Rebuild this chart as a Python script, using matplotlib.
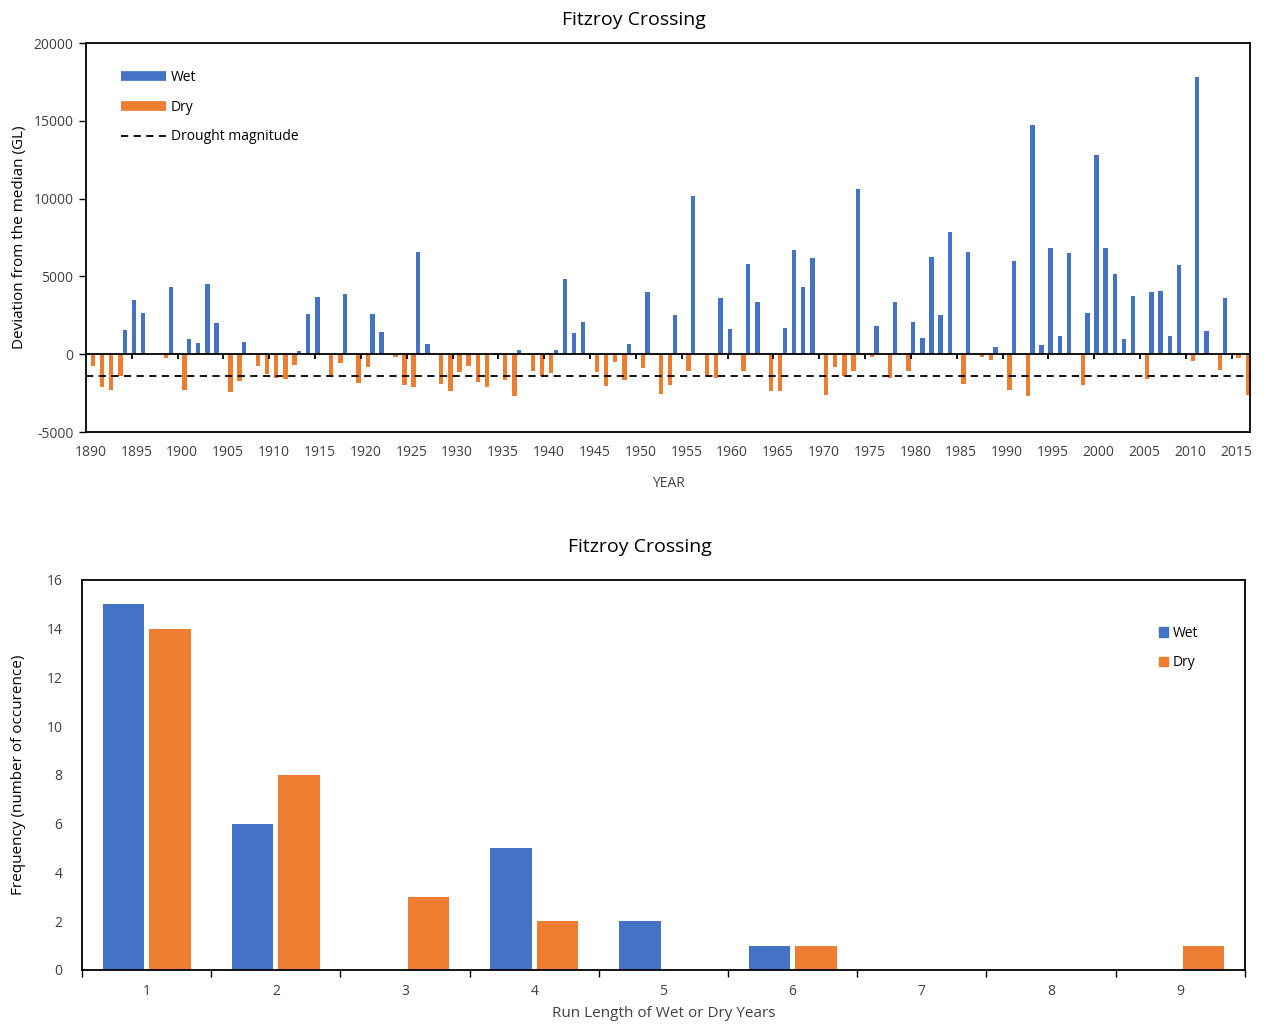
import matplotlib.pyplot as plt
from matplotlib.lines import Line2D
from matplotlib.patches import Patch
import numpy as np

plt.rcParams['font.family'] = ['Open Sans', 'DejaVu Sans']
plt.rcParams['font.size'] = 10
plt.rcParams['axes.unicode_minus'] = False

BLUE = '#4472C4'
ORANGE = '#ED7D31'

# annual flow deviation from the median (GL), 1890-2016
years = list(range(1890, 2017))
deviation = [
    -750, -2120, -2300, -1375, 1560, 3490, 2640, 0, -220, 4310,        # 1890s
    -2300, 1000, 730, 4520, 2030, -2440, -1700, 790, -750, -1250,      # 1900s
    -1545, -1570, -710, 200, 2570, 3700, -1310, -540, 3880, -1870,     # 1910s
    -840, 2570, 1430, -150, -1970, -2080, 6580, 640, -1910, -2340,     # 1920s
    -1160, -770, -1760, -2120, -20, -1680, -2660, 300, -1050, -1380,   # 1930s
    -1200, 300, 4840, 1370, 2080, -1160, -2020, -500, -1680, 680,      # 1940s
    -880, 3990, -2550, -1950, 2530, -1050, 10180, -1400, -1520, 3620,  # 1950s
    1610, -1100, 5790, 3380, -2340, -2340, 1710, 6700, 4330, 6210,     # 1960s
    -2620, -840, -1380, -1100, 10610, -150, 1820, -1545, 3340, -1050,  # 1970s
    2060, 1050, 6260, 2530, 7840, -1910, 6580, -170, -390, 450,        # 1980s
    -2300, 5980, -2660, 14730, 620, 6820, 1160, 6500, -1970, 2640,     # 1990s
    12820, 6860, 5180, 960, 3730, -1590, 3990, 4070, 1180, 5720,       # 2000s
    -430, 17810, 1500, -1010, 3620, -240, -2640,                       # 2010s
]
drought_magnitude = -1420

# frequency of run lengths
run_length = [1, 2, 3, 4, 5, 6, 7, 8, 9]
wet_runs = [15, 6, 0, 5, 2, 1, 0, 0, 0]
dry_runs = [14, 8, 3, 2, 0, 1, 0, 0, 1]

fig = plt.figure(figsize=(12.68, 10.25), dpi=100)

# ---- top: deviation per year ----
ax1 = fig.add_axes([0.0678, 0.5785, 0.918, 0.3795])
dev = np.array(deviation)
x = np.arange(len(years))
wet = np.where(dev > 0, dev, 0)
dry = np.where(dev < 0, dev, 0)
ax1.bar(x - 0.25, wet, width=0.48, color=BLUE, zorder=2)
ax1.bar(x + 0.25, dry, width=0.48, color=ORANGE, zorder=2)
ax1.axhline(drought_magnitude, color='black', lw=1.3, ls=(0, (4, 3)), zorder=3)
ax1.axhline(0, color='black', lw=1.3, zorder=3)
# category ticks on the zero line every 5 years
ax1.vlines(x[::5] - 0.5, -300, 0, color='black', lw=1.3, zorder=3)

ax1.set_xlim(-0.5, len(years) - 0.5)
ax1.set_ylim(-5000, 20000)
ax1.set_yticks(range(-5000, 20001, 5000))
ax1.set_xticks(x[::5])
ax1.set_xticklabels([str(y) for y in years[::5]])
ax1.tick_params(axis='x', length=0, pad=9, labelsize=10, colors='#404040')
ax1.tick_params(axis='y', length=5, width=1, pad=4, labelsize=10, colors='#404040')
ax1.tick_params(axis='both', color='black')
for s in ax1.spines.values():
    s.set_color('black')
    s.set_linewidth(1.3)
ax1.set_title('Fitzroy Crossing', fontsize=14, pad=13, x=0.471)
ax1.set_xlabel('YEAR', fontsize=10, labelpad=12, color='#404040')
ax1.set_ylabel('Deviation from the median (GL)', fontsize=11, labelpad=5)

handles = [
    Line2D([], [], color=BLUE, lw=7, solid_capstyle='butt'),
    Line2D([], [], color=ORANGE, lw=7, solid_capstyle='butt'),
    Line2D([], [], color='black', lw=1.3, ls=(0, (4, 3))),
]
ax1.legend(handles, ['Wet', 'Dry', 'Drought magnitude'], loc='upper left',
           bbox_to_anchor=(0.0245, 0.948), frameon=False, handlelength=3.2,
           handletextpad=0.35, labelspacing=1.05, borderpad=0, fontsize=10)

# ---- bottom: run length frequency ----
ax2 = fig.add_axes([0.0647, 0.0537, 0.917, 0.3805])
r = np.arange(len(run_length))
ax2.bar(r - 0.18, wet_runs, width=0.32, color=BLUE, zorder=2)
ax2.bar(r + 0.18, dry_runs, width=0.32, color=ORANGE, zorder=2)
ax2.set_xlim(-0.5, len(run_length) - 0.5)
ax2.set_ylim(0, 16)
ax2.set_yticks(range(0, 17, 2))
ax2.set_xticks(r)
ax2.set_xticklabels([str(v) for v in run_length])
ax2.set_xticks(np.arange(len(run_length) + 1) - 0.5, minor=True)
ax2.tick_params(axis='x', which='major', length=0, pad=10, labelsize=10, colors='#404040')
ax2.tick_params(axis='x', which='minor', length=5, width=1, color='black')
ax2.tick_params(axis='y', length=0, pad=14, labelsize=10, colors='#404040')
for s in ax2.spines.values():
    s.set_color('black')
    s.set_linewidth(1.3)
ax2.set_title('Fitzroy Crossing', fontsize=14, pad=20, x=0.48)
ax2.set_xlabel('Run Length of Wet or Dry Years', fontsize=11, labelpad=5, color='#404040')
ax2.set_ylabel('Frequency (number of occurence)', fontsize=11, labelpad=15)

ax2.legend([Patch(color=BLUE), Patch(color=ORANGE)], ['Wet', 'Dry'],
           loc='upper left', bbox_to_anchor=(0.92, 0.9), frameon=False,
           handlelength=0.7, handleheight=0.7, handletextpad=0.3,
           labelspacing=1.05, borderpad=0, fontsize=10)

fig.savefig('out.png', dpi=100)
